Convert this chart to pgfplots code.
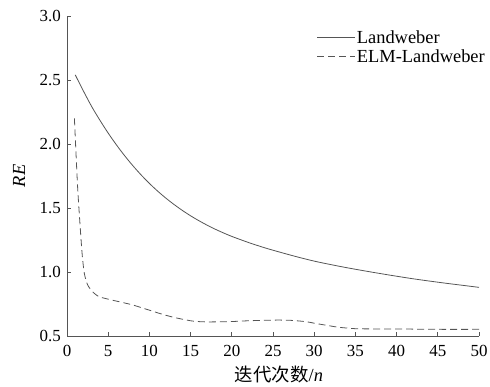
\documentclass[border=0pt]{standalone}
\usepackage{fontspec}
\setmainfont{Liberation Serif}
\newfontfamily\cjk{Noto Sans CJK SC}
\usepackage{pgfplots}
\pgfplotsset{compat=1.18}
\definecolor{lc}{RGB}{85,85,85}
\begin{document}
\begin{tikzpicture}[x=1bp,y=1bp]
\begin{axis}[
  name=ax,
  width=412bp, height=320bp, scale only axis,
  xmin=0, xmax=50, ymin=0.5, ymax=3.0,
  axis lines*=left,
  axis line style={lc, line width=0.8pt},
  tick style={lc, line width=0.8pt},
  tick align=inside,
  major tick length=4bp,
  xtick={0,5,...,50},
  ytick={0.5,1.0,...,3.0},
  yticklabel style={/pgf/number format/fixed, /pgf/number format/fixed zerofill, /pgf/number format/precision=1},
  /pgf/number format/assume math mode=true,
  ticklabel style={font=\fontsize{17}{18}\selectfont},
  xticklabel style={inner sep=0bp, yshift=-9bp},
  yticklabel style={inner sep=0bp, xshift=-6bp},
  every axis x label/.style={at={(rel axis cs:0.5,0)}, anchor=center, yshift=-39bp, xshift=6bp},
  every axis y label/.style={at={(rel axis cs:0,0.5)}, rotate=90, anchor=center, yshift=48bp},
  xlabel={{\cjk 迭代次数}/\textit{n}},
  ylabel={\textit{RE}},
  label style={font=\fontsize{18.5}{19}\selectfont},
  legend style={draw=none, fill=none, at={(1.017,0.956)}, anchor=north east,
    font=\fontsize{18.5}{19}\selectfont, row sep=4.4bp, inner sep=0bp, column sep=0bp,
    nodes={inner sep=1bp, text height=12.6bp, text depth=0bp}},
  legend cell align=left,
  legend image code/.code={\draw[#1] (0bp,0bp) -- (38bp,0bp);},
]
\addplot[lc, line width=0.8pt, smooth] coordinates {
(1,2.540) (2,2.413) (3,2.292) (4,2.185) (5,2.085) (6,1.993) (7,1.908) (8,1.830) (9,1.758) (10,1.692)
(11,1.632) (12,1.577) (13,1.527) (14,1.481) (15,1.439) (16,1.401) (17,1.366) (18,1.334) (19,1.305)
(20,1.278) (22,1.231) (24,1.189) (26,1.152) (28,1.117) (30,1.085) (32,1.058) (34,1.033) (36,1.010)
(38,0.988) (40,0.967) (42,0.947) (44,0.929) (46,0.912) (48,0.896) (50,0.880)};
\addlegendentry{Landweber}
\addplot[lc, line width=0.8pt, dash pattern=on 7bp off 4bp, smooth, tension=0.4] coordinates {
(0.9,2.20) (1.3,1.65) (1.8,1.17) (2.1,0.99) (2.5,0.90) (3.1,0.846) (3.9,0.807) (5.5,0.78) (8,0.742)
(11.2,0.677) (13,0.645) (15.2,0.617) (17,0.610) (20,0.613) (22,0.619) (25,0.624) (27,0.623) (29,0.612)
(30,0.60) (32,0.578) (33,0.568) (35,0.557) (38,0.555) (40,0.555) (45,0.552) (50,0.552)};
\addlegendentry{ELM-Landweber}
\end{axis}
\path ([xshift=-67bp,yshift=-49bp]ax.south west) rectangle ([xshift=11bp,yshift=16bp]ax.north east);
\end{tikzpicture}
\end{document}
